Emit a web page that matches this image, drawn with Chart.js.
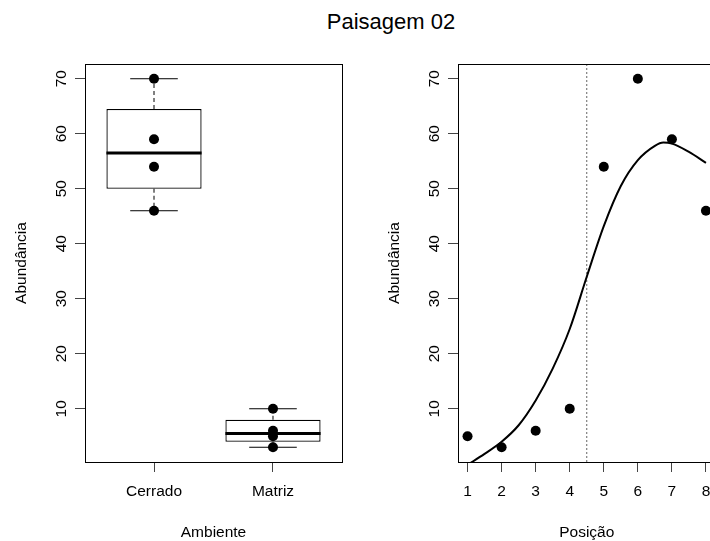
<!DOCTYPE html>
<html>
<head>
<meta charset="utf-8">
<script src="https://cdn.jsdelivr.net/npm/chart.js@4.4.1/dist/chart.umd.min.js"></script>
<style>
html, body { margin: 0; padding: 0; width: 710px; height: 541px; overflow: hidden; background: #fff; }
#title { position: absolute; left: 241px; width: 300px; top: 11px; text-align: center;
  font: 22px/22px "Liberation Sans", Arial, sans-serif; color: #000; }
#c1 { position: absolute; left: 0; top: 0; }
#c2 { position: absolute; left: 373px; top: 0; }
</style>
</head>
<body>
<div id="title">Paisagem 02</div>
<canvas id="c1" width="355" height="541"></canvas>
<canvas id="c2" width="360" height="541"></canvas>
<script>
// ---- data ----
const categories = ['Cerrado', 'Matriz'];
const positions = [1, 2, 3, 4, 5, 6, 7, 8];
const abundance = [5, 3, 6, 10, 54, 70, 59, 46];
const ambiente = ['Matriz', 'Matriz', 'Matriz', 'Matriz', 'Cerrado', 'Cerrado', 'Cerrado', 'Cerrado'];

// boxplot statistics per category (Cerrado, Matriz)
const whiskerLow = [46, 3];
const q1 = [50, 4];
const median = [56.5, 5.5];
const q3 = [64.5, 8];
const whiskerHigh = [70, 10];

// fitted curve
const curveX = [1, 1.5, 2, 2.5, 3, 3.5, 4, 4.5, 5, 5.5, 6, 6.5, 6.75, 7, 7.5, 8];
const curveY = [-0.2, 1.8, 4.0, 7.0, 11.5, 17.3, 24.5, 34.0, 43.2, 50.5, 55.2, 57.8, 58.4, 58.2, 56.7, 54.7];

const cutPosition = 4.5;
const yTicks = [10, 20, 30, 40, 50, 60, 70];

// ---- styling ----
const Y_MIN = 0.32, Y_MAX = 72.68;
const BOX_HALF = 0.4, CAP_HALF = 0.2;
const FONT = "'Liberation Sans', Arial, sans-serif";
const FS = 15.5;
const TICK_COL = '#444';

const framePlugin = {
  id: 'frame',
  afterDatasetsDraw(chart) {
    const { ctx, chartArea: a } = chart;
    ctx.save();
    ctx.strokeStyle = '#000';
    ctx.lineWidth = 1;
    const l = Math.round(a.left), t = Math.round(a.top), r = Math.round(a.right), b = Math.round(a.bottom);
    ctx.strokeRect(l + 0.5, t + 0.5, r - l, b - t);
    ctx.restore();
  }
};

function yScale() {
  return {
    type: 'linear', min: Y_MIN, max: Y_MAX,
    afterBuildTicks: s => { s.ticks = yTicks.map(v => ({ value: v })); },
    afterFit: s => { s.width = 85; },
    grid: { drawOnChartArea: false, drawTicks: true, tickLength: 10, color: TICK_COL },
    border: { display: true, color: '#000' },
    ticks: { minRotation: 90, maxRotation: 90, crossAlign: 'center', padding: 5, autoSkip: false,
             color: '#000', font: { family: FONT, size: FS } },
    title: { display: true, text: 'Abundância', color: '#000', font: { family: FONT, size: FS },
             padding: { top: 12.5, bottom: 0 } }
  };
}

function xScale(min, max, tickVals, labelFn, text) {
  return {
    type: 'linear', min, max, offset: false,
    afterBuildTicks: s => { s.ticks = tickVals.map(v => ({ value: v })); },
    afterFit: s => { s.height = 79; },
    grid: { offset: false, drawOnChartArea: false, drawTicks: true, tickLength: 10, color: TICK_COL },
    border: { display: true, color: '#000' },
    ticks: { padding: 10, minRotation: 0, maxRotation: 0, autoSkip: false, callback: labelFn,
             color: '#000', font: { family: FONT, size: FS } },
    title: { display: true, text, color: '#000', font: { family: FONT, size: FS },
             padding: { top: 0, bottom: -1.3 } }
  };
}

const commonOpts = (padRight, scales) => ({
  responsive: false, animation: false, devicePixelRatio: 1, events: [],
  layout: { padding: { top: 64, left: 0, right: padRight, bottom: 0 } },
  plugins: { legend: { display: false }, tooltip: { enabled: false }, title: { display: false } },
  scales
});

// ---- left panel: boxplot ----
const catX = i => i + 1;
const boxData = categories.map((c, i) => ({ x: catX(i), y: [q1[i], q3[i]] }));
const medianData = [], capData = [], whiskerData = [];
categories.forEach((c, i) => {
  const x = catX(i);
  medianData.push({ x: x - BOX_HALF, y: median[i] }, { x: x + BOX_HALF, y: median[i] }, { x, y: null });
  capData.push({ x: x - CAP_HALF, y: whiskerHigh[i] }, { x: x + CAP_HALF, y: whiskerHigh[i] }, { x, y: null });
  capData.push({ x: x - CAP_HALF, y: whiskerLow[i] }, { x: x + CAP_HALF, y: whiskerLow[i] }, { x, y: null });
  whiskerData.push({ x, y: q3[i] }, { x, y: whiskerHigh[i] }, { x, y: null });
  whiskerData.push({ x, y: q1[i] }, { x, y: whiskerLow[i] }, { x, y: null });
});
const leftPoints = abundance.map((v, i) => ({ x: categories.indexOf(ambiente[i]) + 1, y: v }));

new Chart(document.getElementById('c1'), {
  type: 'bar',
  data: {
    datasets: [
      { type: 'line', data: leftPoints, showLine: false, pointRadius: 5, pointBorderWidth: 0,
        pointBackgroundColor: '#000', order: 0 },
      { type: 'line', data: medianData, borderColor: '#000', borderWidth: 3, pointRadius: 0,
        spanGaps: false, borderCapStyle: 'butt', order: 1 },
      { type: 'line', data: capData, borderColor: '#000', borderWidth: 1, pointRadius: 0,
        spanGaps: false, order: 2 },
      { type: 'line', data: whiskerData, borderColor: '#000', borderWidth: 1, pointRadius: 0,
        spanGaps: false, borderDash: [4, 3], order: 2 },
      { type: 'bar', data: boxData, backgroundColor: '#fff', borderColor: '#000', borderWidth: 1.3,
        borderSkipped: false, barPercentage: 2 * BOX_HALF, categoryPercentage: 1, grouped: false, order: 3 }
    ]
  },
  options: commonOpts(13, {
    x: xScale(0.42, 2.58, categories.map((c, i) => catX(i)), v => categories[v - 1], 'Ambiente'),
    y: yScale()
  }),
  plugins: [framePlugin]
});

// ---- right panel: abundance by position ----
new Chart(document.getElementById('c2'), {
  type: 'line',
  data: {
    datasets: [
      { data: positions.map((p, i) => ({ x: p, y: abundance[i] })), showLine: false, pointRadius: 5,
        pointBorderWidth: 0, pointBackgroundColor: '#000', order: 0 },
      { data: curveX.map((x, i) => ({ x, y: curveY[i] })), borderColor: '#000', borderWidth: 2,
        pointRadius: 0, cubicInterpolationMode: 'monotone', clip: 0, order: 1 },
      { data: [{ x: cutPosition, y: Y_MIN }, { x: cutPosition, y: Y_MAX }], borderColor: '#666',
        borderWidth: 1, borderDash: [2, 2], pointRadius: 0, order: 2 }
    ]
  },
  options: commonOpts(17.5, {
    x: xScale(0.72, 8.28, positions, v => String(v), 'Posição'),
    y: yScale()
  }),
  plugins: [framePlugin]
});
</script>
</body>
</html>
